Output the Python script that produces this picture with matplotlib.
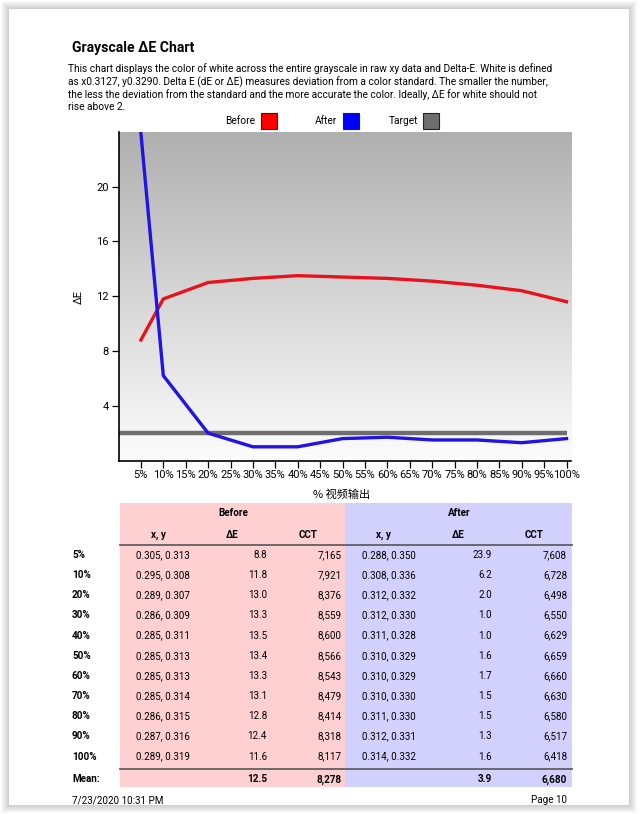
import numpy as np
import matplotlib.pyplot as plt
from matplotlib.patches import Rectangle
from matplotlib.colors import LinearSegmentedColormap

plt.rcParams['font.family'] = ['Roboto', 'DejaVu Sans']

# ---- data ----
levels = ['5%', '10%', '20%', '30%', '40%', '50%', '60%', '70%', '80%', '90%', '100%']
pct = [5, 10, 20, 30, 40, 50, 60, 70, 80, 90, 100]

before_xy = ['0.305, 0.313', '0.295, 0.308', '0.289, 0.307', '0.286, 0.309', '0.285, 0.311',
             '0.285, 0.313', '0.285, 0.313', '0.285, 0.314', '0.286, 0.315', '0.287, 0.316',
             '0.289, 0.319']
before_de = [8.8, 11.8, 13.0, 13.3, 13.5, 13.4, 13.3, 13.1, 12.8, 12.4, 11.6]
before_cct = [7165, 7921, 8376, 8559, 8600, 8566, 8543, 8479, 8414, 8318, 8117]

after_xy = ['0.288, 0.350', '0.308, 0.336', '0.312, 0.332', '0.312, 0.330', '0.311, 0.328',
            '0.310, 0.329', '0.310, 0.329', '0.310, 0.330', '0.311, 0.330', '0.312, 0.331',
            '0.314, 0.332']
after_de = [23.9, 6.2, 2.0, 1.0, 1.0, 1.6, 1.7, 1.5, 1.5, 1.3, 1.6]
after_cct = [7608, 6728, 6498, 6550, 6629, 6659, 6660, 6630, 6580, 6517, 6418]

mean_before = (12.5, 8278)
mean_after = (3.9, 6680)
target_de = 2.0

x_ticks = list(range(5, 101, 5))
y_ticks = [4, 8, 12, 16, 20]

title = 'Grayscale ΔE Chart'
para = ['This chart displays the color of white across the entire grayscale in raw xy data and Delta-E. White is defined',
        'as x0.3127, y0.3290. Delta E (dE or ΔE) measures deviation from a color standard. The smaller the number,',
        'the less the deviation from the standard and the more accurate the color. Ideally, ΔE for white should not',
        'rise above 2.']

RED = '#e8121c'
BLUE = '#2212e6'
GRAY = '#6e6e6e'

W, H = 640, 814
fig = plt.figure(figsize=(6.4, 8.14), dpi=100)
fig.patch.set_facecolor('white')

# page layer, in pixel units
page = fig.add_axes([0, 0, 1, 1])
page.set_xlim(0, W)
page.set_ylim(H, 0)
page.axis('off')

# soft shadow round the page
for k in range(8, 0, -1):
    page.add_patch(Rectangle((9 - k, 9 - k), 620 + 2 * k, 796 + 2 * k, fc='black', alpha=0.025, lw=0))
page.add_patch(Rectangle((9, 9), 620, 796, fc='white', lw=0))


def fit(s, px, **kw):
    # font size that gives string s a width of px pixels
    renderer = fig.canvas.get_renderer()
    t = page.text(0, 0, s, fontsize=10, **kw)
    w = t.get_window_extent(renderer).width
    t.remove()
    return 10 * px / w


fs_p = fit(para[0], 486)
fs_t = fit(title, 122, fontweight='bold')
fs = fit(before_xy[0], 54)
fs_tick = fit('5% 10% 15% 20% 25% 30% 35% 40% 45% 50%', 226)

page.text(72, 48, title, fontsize=fs_t, fontweight='bold', va='center')
for i, line in enumerate(para):
    page.text(68, 69 + i * 12.8, line, fontsize=fs_p, va='center')

# legend
leg = [('Before', 255, 261, 'red'), ('After', 337, 343, 'blue'), ('Target', 418, 423, GRAY)]
for name, tx, bx, c in leg:
    page.text(tx, 120.5, name, fontsize=fs_p, ha='right', va='center')
    page.add_patch(Rectangle((bx, 113), 16, 16, fc=c, ec='#222222', lw=0.8))

page.text(79, 297, 'ΔE', fontsize=fs_tick, rotation=90, ha='center', va='center')
page.text(342, 495, '% 视频输出', fontsize=fs_tick, style='italic', ha='center', va='center',
          family=['Noto Sans CJK SC', 'DejaVu Sans'])

# ---- chart ----
ax = fig.add_axes([118.5 / W, 1 - 460.5 / H, 452.5 / W, 328.6 / H])
grad = LinearSegmentedColormap.from_list('bg', ['#b0b0b0', '#fcfcfc'])
ax.imshow(np.linspace(0, 1, 256)[:, None], cmap=grad, extent=[0, 101, 0, 24],
          aspect='auto', origin='upper', zorder=0)
ax.hlines(target_de, 0, 100, color=GRAY, lw=3.2, zorder=2)
ax.plot(pct, before_de, color=RED, lw=2.4, zorder=3)
ax.plot(pct, after_de, color=BLUE, lw=2.4, zorder=3)
ax.set_xlim(0, 101)
ax.set_ylim(0, 24)
ax.set_xticks(x_ticks)
ax.set_xticklabels([f'{v}%' for v in x_ticks])
ax.set_yticks(y_ticks)
ax.tick_params(direction='out', length=5, width=0.9, labelsize=fs_tick, pad=2)
for s in ['top', 'right']:
    ax.spines[s].set_visible(False)
for s in ['left', 'bottom']:
    ax.spines[s].set_linewidth(1.2)

# ---- table ----
top, bottom = 503, 787
page.add_patch(Rectangle((120, top), 225, bottom - top, fc='#ffd0d2', lw=0))
page.add_patch(Rectangle((345, top), 227, bottom - top, fc='#d2d0fd', lw=0))

page.text(233, 513, 'Before', fontsize=fs, fontweight='bold', ha='center', va='center')
page.text(459, 513, 'After', fontsize=fs, fontweight='bold', ha='center', va='center')
for hxy, hde, hcct in [(158, 232, 308), (383, 458, 534)]:
    page.text(hxy, 534.5, 'x, y', fontsize=fs, fontweight='bold', ha='center', va='center')
    page.text(hde, 534.5, 'ΔE', fontsize=fs, fontweight='bold', ha='center', va='center')
    page.text(hcct, 534.5, 'CCT', fontsize=fs, fontweight='bold', ha='center', va='center')

page.plot([120, 572], [545, 545], color='#606060', lw=1.3)
page.plot([120, 572], [768.5, 768.5], color='#606060', lw=1.3)

for i, lab in enumerate(levels):
    y = 555 + i * 20.15
    page.text(72, y, lab, fontsize=fs, fontweight='bold', va='center')
    page.text(163, y, before_xy[i], fontsize=fs, ha='center', va='center')
    page.text(267, y, f'{before_de[i]:.1f}', fontsize=fs, ha='right', va='center')
    page.text(342, y, f'{before_cct[i]:,}', fontsize=fs, ha='right', va='center')
    page.text(389, y, after_xy[i], fontsize=fs, ha='center', va='center')
    page.text(492, y, f'{after_de[i]:.1f}', fontsize=fs, ha='right', va='center')
    page.text(567, y, f'{after_cct[i]:,}', fontsize=fs, ha='right', va='center')

ym = 779.5
page.text(72, ym, 'Mean:', fontsize=fs, fontweight='bold', va='center')
page.text(267, ym, f'{mean_before[0]:.1f}', fontsize=fs, fontweight='bold', ha='right', va='center')
page.text(342, ym, f'{mean_before[1]:,}', fontsize=fs, fontweight='bold', ha='right', va='center')
page.text(492, ym, f'{mean_after[0]:.1f}', fontsize=fs, fontweight='bold', ha='right', va='center')
page.text(567, ym, f'{mean_after[1]:,}', fontsize=fs, fontweight='bold', ha='right', va='center')

page.text(72, 800, '7/23/2020 10:31 PM', fontsize=fs, va='center')
page.text(567, 800, 'Page 10', fontsize=fs, ha='right', va='center')

fig.savefig('out.png', dpi=100)
